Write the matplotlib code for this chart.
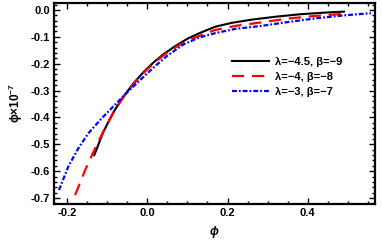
import matplotlib
matplotlib.use("Agg")
import matplotlib.pyplot as plt
from matplotlib.ticker import MultipleLocator, FormatStrFormatter

plt.rcParams['font.family'] = ['Liberation Sans', 'DejaVu Sans']
plt.rcParams['font.weight'] = 'bold'
plt.rcParams['mathtext.fontset'] = 'custom'
plt.rcParams['mathtext.bf'] = 'Liberation Sans:bold'
plt.rcParams['mathtext.rm'] = 'Liberation Sans:bold'
plt.rcParams['mathtext.default'] = 'bf'

# curve data
black_x = [-0.132, -0.11, -0.085, -0.06, -0.035, -0.01, 0.015, 0.04, 0.07, 0.1,
           0.13, 0.17, 0.21, 0.26, 0.32, 0.38, 0.44, 0.49]
black_y = [-0.540, -0.455, -0.382, -0.323, -0.274, -0.232, -0.196, -0.165, -0.134, -0.107,
           -0.086, -0.062, -0.048, -0.036, -0.025, -0.016, -0.010, -0.006]

red_x = [-0.18, -0.155, -0.13, -0.105, -0.08, -0.055, -0.03, -0.005, 0.02, 0.05,
         0.08, 0.11, 0.14, 0.17, 0.22, 0.28, 0.35, 0.42, 0.49]
red_y = [-0.689, -0.596, -0.515, -0.438, -0.370, -0.315, -0.268, -0.228, -0.193, -0.158,
         -0.130, -0.108, -0.090, -0.074, -0.059, -0.047, -0.032, -0.022, -0.014]

blue_x = [-0.22, -0.197, -0.172, -0.147, -0.113, -0.08, -0.047, -0.013, 0.02, 0.05,
          0.09, 0.13, 0.17, 0.22, 0.28, 0.35, 0.42, 0.49, 0.5575]
blue_y = [-0.670, -0.583, -0.515, -0.459, -0.402, -0.352, -0.302, -0.254, -0.208, -0.170,
          -0.128, -0.102, -0.086, -0.070, -0.060, -0.045, -0.031, -0.020, -0.012]

labels = ["λ=−4.5, β=−9", "λ=−4, β=−8", "λ=−3, β=−7"]

fig = plt.figure(figsize=(3.82, 2.44), dpi=100)
ax = fig.add_axes([54/382, 1-204/244, 321/382, 201/244])

ax.plot(black_x, black_y, color='black', lw=1.5, label=labels[0])
ax.plot(red_x, red_y, color='red', lw=1.6, dashes=(5.5, 3.5), label=labels[1])
ax.plot(blue_x, blue_y, color='blue', lw=1.6, dashes=(2.2, 0.9, 0.8, 0.9), label=labels[2])

ax.set_xlim(-0.2325, 0.5675)
ax.set_ylim(-0.722, 0.026)

ax.xaxis.set_major_locator(MultipleLocator(0.2))
ax.xaxis.set_minor_locator(MultipleLocator(0.05))
ax.yaxis.set_major_locator(MultipleLocator(0.1))
ax.yaxis.set_minor_locator(MultipleLocator(0.02))
ax.xaxis.set_major_formatter(FormatStrFormatter('%.1f'))
ax.yaxis.set_major_formatter(FormatStrFormatter('%.1f'))

ax.tick_params(which='both', direction='in', top=True, right=True, width=1.0)
ax.tick_params(which='major', length=4, labelsize=8, pad=3)
ax.tick_params(which='minor', length=2)
for s in ax.spines.values():
    s.set_linewidth(1.6)
for t in ax.get_xticklabels() + ax.get_yticklabels():
    t.set_fontweight('bold')

ax.set_xlabel("ϕ", fontsize=8.5, fontweight='bold', style='italic', labelpad=6)
ax.set_ylabel("ϕ×10$^{-7}$", fontsize=8.5, fontweight='bold', labelpad=4)

ax.legend(loc='upper left', bbox_to_anchor=(0.555, 0.73), frameon=False,
          handlelength=3.3, handletextpad=0.6, labelspacing=0.45,
          borderpad=0, borderaxespad=0, prop={'weight': 'bold', 'size': 8})

fig.savefig("out.png", dpi=100)
